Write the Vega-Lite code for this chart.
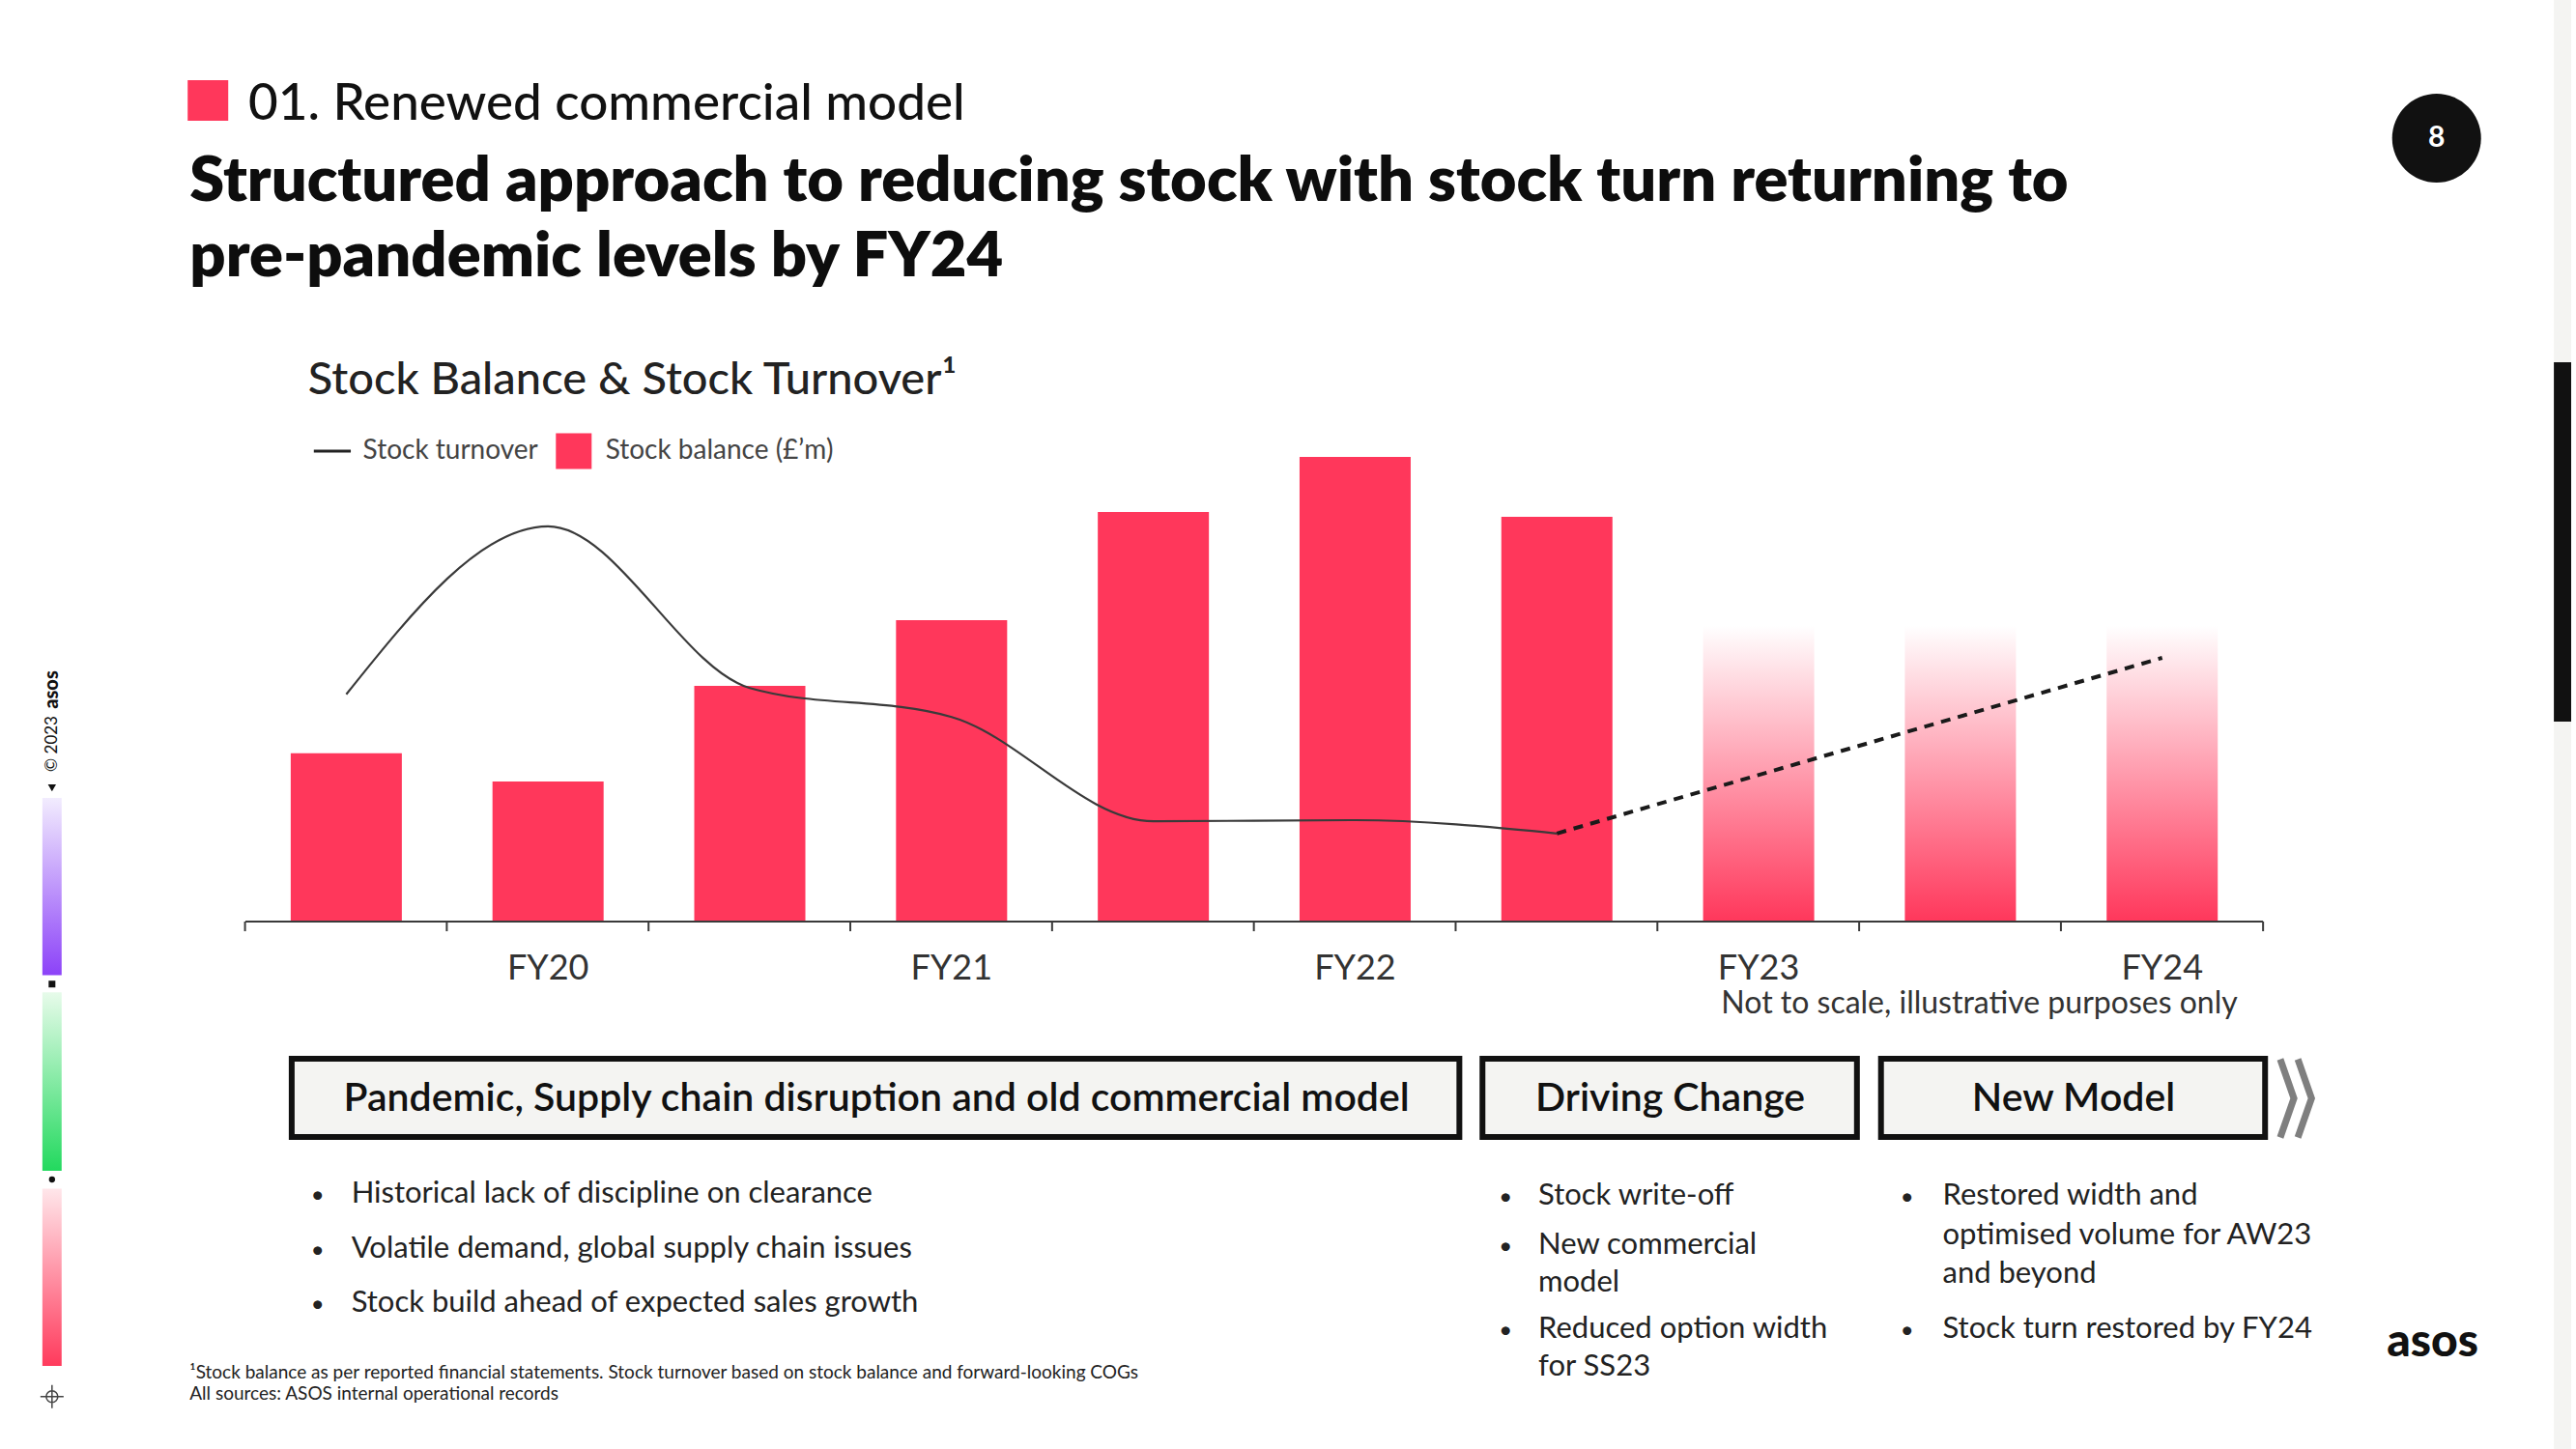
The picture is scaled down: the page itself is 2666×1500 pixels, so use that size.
{
  "$schema": "https://vega.github.io/schema/vega-lite/v6.json",
  "width": 2666,
  "height": 1500,
  "autosize": {"type": "fit", "contains": "padding"},
  "padding": 0,
  "background": "#ffffff",
  "config": {"view": {"stroke": null}, "font": "Lato", "text": {"font": "Lato"}},
  "datasets": {
    "stock": [
      {"idx": 1, "period": "H1 FY20", "balance": 392, "turnover": 3.92, "status": "actual"},
      {"idx": 2, "period": "FY20", "balance": 326, "turnover": 6.82, "status": "actual"},
      {"idx": 3, "period": "H1 FY21", "balance": 549, "turnover": 4.03, "status": "actual"},
      {"idx": 4, "period": "FY21", "balance": 702, "turnover": 3.53, "status": "actual"},
      {"idx": 5, "period": "H1 FY22", "balance": 954, "turnover": 1.73, "status": "actual"},
      {"idx": 6, "period": "FY22", "balance": 1082, "turnover": 1.75, "status": "actual"},
      {"idx": 7, "period": "H1 FY23", "balance": 943, "turnover": 1.52, "status": "actual"},
      {"idx": 8, "period": "FY23", "balance": 690, "turnover": null, "status": "projected"},
      {"idx": 9, "period": "H1 FY24", "balance": 690, "turnover": null, "status": "projected"},
      {"idx": 10, "period": "FY24", "balance": 690, "turnover": 4.55, "status": "projected"}
    ]
  },
  "resolve": {"scale": {"y": "independent"}},
  "layer": [
    {
      "layer": [
        {"data": {"values": [{"part": "edge"}]}, "mark": {"type": "rect", "color": "#f4f4f2"},
         "encoding": {"x": {"datum": 11.9413, "type": "quantitative", "scale": {"domain": [-0.6923, 12.027], "nice": false, "zero": false}, "axis": null}, "x2": {"datum": 12.027},
                      "y": {"datum": 2146.5, "type": "quantitative", "scale": {"domain": [-1228.5, 2146.5], "nice": false, "zero": false}, "axis": null}, "y2": {"datum": -1228.5}}},
        {"data": {"values": [{"part": "tab"}]}, "mark": {"type": "rect", "color": "#111111"},
         "encoding": {"x": {"datum": 11.9413, "type": "quantitative", "scale": {"domain": [-0.6923, 12.027], "nice": false, "zero": false}, "axis": null}, "x2": {"datum": 12.027},
                      "y": {"datum": 1302.75, "type": "quantitative", "scale": {"domain": [-1228.5, 2146.5], "nice": false, "zero": false}, "axis": null}, "y2": {"datum": 465.75}}},
        {"data": {"values": [{"part": "purple"}]}, "mark": {"type": "rect", "color": {"gradient": "linear", "x1": 0, "y1": 0, "x2": 0, "y2": 1, "stops": [{"offset": 0, "color": "#f2ecfe"}, {"offset": 1, "color": "#8c42f8"}]}},
         "encoding": {"x": {"datum": -0.5062, "type": "quantitative", "scale": {"domain": [-0.6923, 12.027], "nice": false, "zero": false}, "axis": null}, "x2": {"datum": -0.4108},
                      "y": {"datum": 288, "type": "quantitative", "scale": {"domain": [-1228.5, 2146.5], "nice": false, "zero": false}, "axis": null}, "y2": {"datum": -124.9}}},
        {"data": {"values": [{"part": "green"}]}, "mark": {"type": "rect", "color": {"gradient": "linear", "x1": 0, "y1": 0, "x2": 0, "y2": 1, "stops": [{"offset": 0, "color": "#e7fbea"}, {"offset": 1, "color": "#22d95e"}]}},
         "encoding": {"x": {"datum": -0.5062, "type": "quantitative", "scale": {"domain": [-0.6923, 12.027], "nice": false, "zero": false}, "axis": null}, "x2": {"datum": -0.4108},
                      "y": {"datum": -164.9, "type": "quantitative", "scale": {"domain": [-1228.5, 2146.5], "nice": false, "zero": false}, "axis": null}, "y2": {"datum": -580.5}}},
        {"data": {"values": [{"part": "pink"}]}, "mark": {"type": "rect", "color": {"gradient": "linear", "x1": 0, "y1": 0, "x2": 0, "y2": 1, "stops": [{"offset": 0, "color": "#ffe6ea"}, {"offset": 1, "color": "#ff3a5c"}]}},
         "encoding": {"x": {"datum": -0.5062, "type": "quantitative", "scale": {"domain": [-0.6923, 12.027], "nice": false, "zero": false}, "axis": null}, "x2": {"datum": -0.4108},
                      "y": {"datum": -621.9, "type": "quantitative", "scale": {"domain": [-1228.5, 2146.5], "nice": false, "zero": false}, "axis": null}, "y2": {"datum": -1035}}},
        {"data": {"values": [{"part": "marker"}]}, "mark": {"type": "point", "shape": "triangle-down", "size": 70, "filled": true, "color": "#111111", "opacity": 1},
         "encoding": {"x": {"datum": -0.4585, "type": "quantitative", "scale": {"domain": [-0.6923, 12.027], "nice": false, "zero": false}, "axis": null},
                      "y": {"datum": 311.4, "type": "quantitative", "scale": {"domain": [-1228.5, 2146.5], "nice": false, "zero": false}, "axis": null}}},
        {"data": {"values": [{"part": "marker"}]}, "mark": {"type": "point", "shape": "square", "size": 49, "filled": true, "color": "#111111", "opacity": 1},
         "encoding": {"x": {"datum": -0.4585, "type": "quantitative", "scale": {"domain": [-0.6923, 12.027], "nice": false, "zero": false}, "axis": null},
                      "y": {"datum": -145.6, "type": "quantitative", "scale": {"domain": [-1228.5, 2146.5], "nice": false, "zero": false}, "axis": null}}},
        {"data": {"values": [{"part": "marker"}]}, "mark": {"type": "point", "shape": "circle", "size": 40, "filled": true, "color": "#111111", "opacity": 1},
         "encoding": {"x": {"datum": -0.4585, "type": "quantitative", "scale": {"domain": [-0.6923, 12.027], "nice": false, "zero": false}, "axis": null},
                      "y": {"datum": -600.75, "type": "quantitative", "scale": {"domain": [-1228.5, 2146.5], "nice": false, "zero": false}, "axis": null}}},
        {"data": {"values": [{"part": "marker"}]}, "mark": {"type": "point", "shape": "M-0.5,0A0.5,0.5 0 1,0 0.5,0A0.5,0.5 0 1,0 -0.5,0M-1,0L1,0M0,-1L0,1", "size": 576, "filled": false, "stroke": "#444444", "strokeWidth": 1.5, "opacity": 1},
         "encoding": {"x": {"datum": -0.4585, "type": "quantitative", "scale": {"domain": [-0.6923, 12.027], "nice": false, "zero": false}, "axis": null},
                      "y": {"datum": -1106.3, "type": "quantitative", "scale": {"domain": [-1228.5, 2146.5], "nice": false, "zero": false}, "axis": null}}},
        {"data": {"values": [{"label": "asos"}]}, "mark": {"type": "text", "angle": 270, "align": "center", "baseline": "middle", "fontSize": 20, "fontWeight": 900, "color": "#111111"},
         "encoding": {"x": {"datum": -0.4585, "type": "quantitative", "scale": {"domain": [-0.6923, 12.027], "nice": false, "zero": false}, "axis": null},
                      "y": {"datum": 540, "type": "quantitative", "scale": {"domain": [-1228.5, 2146.5], "nice": false, "zero": false}, "axis": null}, "text": {"field": "label"}}},
        {"data": {"values": [{"label": "© 2023"}]}, "mark": {"type": "text", "angle": 270, "align": "center", "baseline": "middle", "fontSize": 17, "fontWeight": 400, "color": "#111111"},
         "encoding": {"x": {"datum": -0.4585, "type": "quantitative", "scale": {"domain": [-0.6923, 12.027], "nice": false, "zero": false}, "axis": null},
                      "y": {"datum": 414, "type": "quantitative", "scale": {"domain": [-1228.5, 2146.5], "nice": false, "zero": false}, "axis": null}, "text": {"field": "label"}}},
        {"data": {"values": [{"part": "section"}]}, "mark": {"type": "point", "shape": "square", "size": 1764, "filled": true, "color": "#ff375b", "opacity": 1},
         "encoding": {"x": {"datum": 0.3144, "type": "quantitative", "scale": {"domain": [-0.6923, 12.027], "nice": false, "zero": false}, "axis": null},
                      "y": {"datum": 1912.5, "type": "quantitative", "scale": {"domain": [-1228.5, 2146.5], "nice": false, "zero": false}, "axis": null}}},
        {"data": {"values": [{"label": "01. Renewed commercial model"}]}, "mark": {"type": "text", "align": "left", "baseline": "alphabetic", "fontSize": 53, "fontWeight": 500, "color": "#111111"},
         "encoding": {"x": {"datum": 0.5148, "type": "quantitative", "scale": {"domain": [-0.6923, 12.027], "nice": false, "zero": false}, "axis": null},
                      "y": {"datum": 1867.5, "type": "quantitative", "scale": {"domain": [-1228.5, 2146.5], "nice": false, "zero": false}, "axis": null}, "text": {"field": "label"}}},
        {"data": {"values": [{"label": "Structured approach to reducing stock with stock turn returning to"}]}, "mark": {"type": "text", "align": "left", "baseline": "alphabetic", "fontSize": 65, "fontWeight": 800, "color": "#0d0d0d"},
         "encoding": {"x": {"datum": 0.2238, "type": "quantitative", "scale": {"domain": [-0.6923, 12.027], "nice": false, "zero": false}, "axis": null},
                      "y": {"datum": 1679.6, "type": "quantitative", "scale": {"domain": [-1228.5, 2146.5], "nice": false, "zero": false}, "axis": null}, "text": {"field": "label"}}},
        {"data": {"values": [{"label": "pre-pandemic levels by FY24"}]}, "mark": {"type": "text", "align": "left", "baseline": "alphabetic", "fontSize": 65, "fontWeight": 800, "color": "#0d0d0d"},
         "encoding": {"x": {"datum": 0.2238, "type": "quantitative", "scale": {"domain": [-0.6923, 12.027], "nice": false, "zero": false}, "axis": null},
                      "y": {"datum": 1504.1, "type": "quantitative", "scale": {"domain": [-1228.5, 2146.5], "nice": false, "zero": false}, "axis": null}, "text": {"field": "label"}}},
        {"data": {"values": [{"part": "page"}]}, "mark": {"type": "point", "shape": "circle", "size": 8464, "filled": true, "color": "#111111", "opacity": 1},
         "encoding": {"x": {"datum": 11.36, "type": "quantitative", "scale": {"domain": [-0.6923, 12.027], "nice": false, "zero": false}, "axis": null},
                      "y": {"datum": 1824.75, "type": "quantitative", "scale": {"domain": [-1228.5, 2146.5], "nice": false, "zero": false}, "axis": null}}},
        {"data": {"values": [{"label": "8"}]}, "mark": {"type": "text", "align": "center", "baseline": "middle", "fontSize": 30, "fontWeight": 700, "color": "#ffffff"},
         "encoding": {"x": {"datum": 11.36, "type": "quantitative", "scale": {"domain": [-0.6923, 12.027], "nice": false, "zero": false}, "axis": null},
                      "y": {"datum": 1824.75, "type": "quantitative", "scale": {"domain": [-1228.5, 2146.5], "nice": false, "zero": false}, "axis": null}, "text": {"field": "label"}}},
        {"data": {"values": [{"label": "Stock Balance & Stock Turnover¹"}]}, "mark": {"type": "text", "align": "left", "baseline": "alphabetic", "fontSize": 47, "fontWeight": 500, "color": "#222222"},
         "encoding": {"x": {"datum": 0.8106, "type": "quantitative", "scale": {"domain": [-0.6923, 12.027], "nice": false, "zero": false}, "axis": null},
                      "y": {"datum": 1228.5, "type": "quantitative", "scale": {"domain": [-1228.5, 2146.5], "nice": false, "zero": false}, "axis": null}, "text": {"field": "label"}}},
        {"data": {"values": [{"series": "Stock turnover"}]}, "mark": {"type": "rule", "color": "#222222", "strokeWidth": 3},
         "encoding": {"x": {"datum": 0.8392, "type": "quantitative", "scale": {"domain": [-0.6923, 12.027], "nice": false, "zero": false}, "axis": null}, "x2": {"datum": 1.0224},
                      "y": {"datum": 1095.75, "type": "quantitative", "scale": {"domain": [-1228.5, 2146.5], "nice": false, "zero": false}, "axis": null}}},
        {"data": {"values": [{"label": "Stock turnover"}]}, "mark": {"type": "text", "align": "left", "baseline": "middle", "fontSize": 28, "fontWeight": 400, "color": "#444444"},
         "encoding": {"x": {"datum": 1.0825, "type": "quantitative", "scale": {"domain": [-0.6923, 12.027], "nice": false, "zero": false}, "axis": null},
                      "y": {"datum": 1095.75, "type": "quantitative", "scale": {"domain": [-1228.5, 2146.5], "nice": false, "zero": false}, "axis": null}, "text": {"field": "label"}}},
        {"data": {"values": [{"series": "Stock balance"}]}, "mark": {"type": "point", "shape": "square", "size": 1369, "filled": true, "color": "#ff375b", "opacity": 1},
         "encoding": {"x": {"datum": 2.1274, "type": "quantitative", "scale": {"domain": [-0.6923, 12.027], "nice": false, "zero": false}, "axis": null},
                      "y": {"datum": 1095.75, "type": "quantitative", "scale": {"domain": [-1228.5, 2146.5], "nice": false, "zero": false}, "axis": null}}},
        {"data": {"values": [{"label": "Stock balance (£’m)"}]}, "mark": {"type": "text", "align": "left", "baseline": "middle", "fontSize": 28, "fontWeight": 400, "color": "#444444"},
         "encoding": {"x": {"datum": 2.2848, "type": "quantitative", "scale": {"domain": [-0.6923, 12.027], "nice": false, "zero": false}, "axis": null},
                      "y": {"datum": 1095.75, "type": "quantitative", "scale": {"domain": [-1228.5, 2146.5], "nice": false, "zero": false}, "axis": null}, "text": {"field": "label"}}},
        {"data": {"name": "stock"}, "transform": [{"filter": "datum.status === 'actual'"}],
         "mark": {"type": "bar", "orient": "vertical", "width": 115, "color": "#ff375b"},
         "encoding": {"x": {"field": "idx", "type": "quantitative", "scale": {"domain": [-0.6923, 12.027], "nice": false, "zero": false}, "axis": null},
                      "y": {"field": "balance", "type": "quantitative", "scale": {"domain": [-1228.5, 2146.5], "nice": false, "zero": false}, "axis": null}, "y2": {"datum": 0}}},
        {"data": {"name": "stock"}, "transform": [{"filter": "datum.status === 'projected'"}],
         "mark": {"type": "bar", "orient": "vertical", "width": 115, "color": {"gradient": "linear", "x1": 0, "y1": 1, "x2": 0, "y2": 0, "stops": [{"offset": 0, "color": "#ff375b"}, {"offset": 1, "color": "#ffffff"}]}},
         "encoding": {"x": {"field": "idx", "type": "quantitative", "scale": {"domain": [-0.6923, 12.027], "nice": false, "zero": false}, "axis": null},
                      "y": {"field": "balance", "type": "quantitative", "scale": {"domain": [-1228.5, 2146.5], "nice": false, "zero": false}, "axis": null}, "y2": {"datum": 0}}},
        {"data": {"values": [{"part": "baseline"}]}, "mark": {"type": "rule", "color": "#3a3a3a", "strokeWidth": 2},
         "encoding": {"x": {"datum": 0.5, "type": "quantitative", "scale": {"domain": [-0.6923, 12.027], "nice": false, "zero": false}, "axis": null}, "x2": {"datum": 10.5},
                      "y": {"datum": 0, "type": "quantitative", "scale": {"domain": [-1228.5, 2146.5], "nice": false, "zero": false}, "axis": null}}},
        {"data": {"name": "stock"}, "mark": {"type": "rule", "color": "#3a3a3a", "strokeWidth": 2},
         "encoding": {"x": {"field": "idx", "type": "quantitative", "scale": {"domain": [-0.6923, 12.027], "nice": false, "zero": false}, "axis": null}, "xOffset": {"value": -104.8},
                      "y": {"datum": 0, "type": "quantitative", "scale": {"domain": [-1228.5, 2146.5], "nice": false, "zero": false}, "axis": null}, "y2": {"datum": -22.5}}},
        {"data": {"values": [{"part": "end tick"}]}, "mark": {"type": "rule", "color": "#3a3a3a", "strokeWidth": 2},
         "encoding": {"x": {"datum": 10.5, "type": "quantitative", "scale": {"domain": [-0.6923, 12.027], "nice": false, "zero": false}, "axis": null},
                      "y": {"datum": 0, "type": "quantitative", "scale": {"domain": [-1228.5, 2146.5], "nice": false, "zero": false}, "axis": null}, "y2": {"datum": -22.5}}},
        {"data": {"name": "stock"}, "transform": [{"filter": "indexof(datum.period, 'H1') < 0"}],
         "mark": {"type": "text", "align": "center", "baseline": "middle", "fontSize": 36, "fontWeight": 400, "color": "#333333"},
         "encoding": {"x": {"field": "idx", "type": "quantitative", "scale": {"domain": [-0.6923, 12.027], "nice": false, "zero": false}, "axis": null},
                      "y": {"datum": -110.25, "type": "quantitative", "scale": {"domain": [-1228.5, 2146.5], "nice": false, "zero": false}, "axis": null}, "text": {"field": "period"}}},
        {"data": {"values": [{"label": "Not to scale, illustrative purposes only"}]}, "mark": {"type": "text", "align": "left", "baseline": "middle", "fontSize": 32, "fontWeight": 400, "color": "#333333"},
         "encoding": {"x": {"datum": 7.8144, "type": "quantitative", "scale": {"domain": [-0.6923, 12.027], "nice": false, "zero": false}, "axis": null},
                      "y": {"datum": -191.25, "type": "quantitative", "scale": {"domain": [-1228.5, 2146.5], "nice": false, "zero": false}, "axis": null}, "text": {"field": "label"}}},
        {"data": {"values": [{"phase": "Pandemic"}]}, "mark": {"type": "rect", "fill": "#f4f4f2", "stroke": "#111111", "strokeWidth": 6},
         "encoding": {"x": {"datum": 0.7295, "type": "quantitative", "scale": {"domain": [-0.6923, 12.027], "nice": false, "zero": false}, "axis": null}, "x2": {"datum": 6.5167},
                      "y": {"datum": -319.5, "type": "quantitative", "scale": {"domain": [-1228.5, 2146.5], "nice": false, "zero": false}, "axis": null}, "y2": {"datum": -501.75}}},
        {"data": {"values": [{"phase": "Driving Change"}]}, "mark": {"type": "rect", "fill": "#f4f4f2", "stroke": "#111111", "strokeWidth": 6},
         "encoding": {"x": {"datum": 6.6312, "type": "quantitative", "scale": {"domain": [-0.6923, 12.027], "nice": false, "zero": false}, "axis": null}, "x2": {"datum": 8.4871},
                      "y": {"datum": -319.5, "type": "quantitative", "scale": {"domain": [-1228.5, 2146.5], "nice": false, "zero": false}, "axis": null}, "y2": {"datum": -501.75}}},
        {"data": {"values": [{"phase": "New Model"}]}, "mark": {"type": "rect", "fill": "#f4f4f2", "stroke": "#111111", "strokeWidth": 6},
         "encoding": {"x": {"datum": 8.6064, "type": "quantitative", "scale": {"domain": [-0.6923, 12.027], "nice": false, "zero": false}, "axis": null}, "x2": {"datum": 10.51},
                      "y": {"datum": -319.5, "type": "quantitative", "scale": {"domain": [-1228.5, 2146.5], "nice": false, "zero": false}, "axis": null}, "y2": {"datum": -501.75}}},
        {"data": {"values": [{"label": "Pandemic, Supply chain disruption and old commercial model"}]}, "mark": {"type": "text", "align": "center", "baseline": "middle", "fontSize": 41, "fontWeight": 600, "color": "#111111"},
         "encoding": {"x": {"datum": 3.6279, "type": "quantitative", "scale": {"domain": [-0.6923, 12.027], "nice": false, "zero": false}, "axis": null},
                      "y": {"datum": -414, "type": "quantitative", "scale": {"domain": [-1228.5, 2146.5], "nice": false, "zero": false}, "axis": null}, "text": {"field": "label"}}},
        {"data": {"values": [{"label": "Driving Change"}]}, "mark": {"type": "text", "align": "center", "baseline": "middle", "fontSize": 41, "fontWeight": 600, "color": "#111111"},
         "encoding": {"x": {"datum": 7.5616, "type": "quantitative", "scale": {"domain": [-0.6923, 12.027], "nice": false, "zero": false}, "axis": null},
                      "y": {"datum": -414, "type": "quantitative", "scale": {"domain": [-1228.5, 2146.5], "nice": false, "zero": false}, "axis": null}, "text": {"field": "label"}}},
        {"data": {"values": [{"label": "New Model"}]}, "mark": {"type": "text", "align": "center", "baseline": "middle", "fontSize": 41, "fontWeight": 600, "color": "#111111"},
         "encoding": {"x": {"datum": 9.5606, "type": "quantitative", "scale": {"domain": [-0.6923, 12.027], "nice": false, "zero": false}, "axis": null},
                      "y": {"datum": -414, "type": "quantitative", "scale": {"domain": [-1228.5, 2146.5], "nice": false, "zero": false}, "axis": null}, "text": {"field": "label"}}},
        {"data": {"values": [{"part": "chevron"}]}, "mark": {"type": "point", "shape": "M-0.4,-1L-0.05,0L-0.4,1M0.05,-1L0.4,0L0.05,1", "size": 6561, "filled": false, "stroke": "#7f7f7f", "strokeWidth": 7, "opacity": 1},
         "encoding": {"x": {"datum": 10.6627, "type": "quantitative", "scale": {"domain": [-0.6923, 12.027], "nice": false, "zero": false}, "axis": null},
                      "y": {"datum": -411.75, "type": "quantitative", "scale": {"domain": [-1228.5, 2146.5], "nice": false, "zero": false}, "axis": null}}},
        {"data": {"values": [{"label": "•\n•\n•"}]}, "mark": {"type": "text", "align": "center", "baseline": "alphabetic", "lineBreak": "\n", "lineHeight": 56.5, "fontSize": 24, "color": "#222222"},
         "encoding": {"x": {"datum": 0.8583, "type": "quantitative", "scale": {"domain": [-0.6923, 12.027], "nice": false, "zero": false}, "axis": null},
                      "y": {"datum": -654.75, "type": "quantitative", "scale": {"domain": [-1228.5, 2146.5], "nice": false, "zero": false}, "axis": null}, "text": {"field": "label"}}},
        {"data": {"values": [{"label": "Historical lack of discipline on clearance\nVolatile demand, global supply chain issues\nStock build ahead of expected sales growth"}]}, "mark": {"type": "text", "align": "left", "baseline": "alphabetic", "lineBreak": "\n", "lineHeight": 56.5, "fontSize": 31, "fontWeight": 400, "color": "#222222"},
         "encoding": {"x": {"datum": 1.0253, "type": "quantitative", "scale": {"domain": [-0.6923, 12.027], "nice": false, "zero": false}, "axis": null},
                      "y": {"datum": -654.75, "type": "quantitative", "scale": {"domain": [-1228.5, 2146.5], "nice": false, "zero": false}, "axis": null}, "text": {"field": "label"}}},
        {"data": {"values": [{"label": "Stock write-off"}]},
         "encoding": {"y": {"datum": -659.25, "type": "quantitative", "scale": {"domain": [-1228.5, 2146.5], "nice": false, "zero": false}, "axis": null}},
         "layer": [
           {"mark": {"type": "text", "align": "center", "baseline": "alphabetic", "fontSize": 24, "color": "#222222"},
            "encoding": {"x": {"datum": 6.7457, "type": "quantitative", "scale": {"domain": [-0.6923, 12.027], "nice": false, "zero": false}, "axis": null}, "text": {"value": "•"}}},
           {"mark": {"type": "text", "align": "left", "baseline": "alphabetic", "lineBreak": "\n", "lineHeight": 39, "fontSize": 31, "color": "#222222"},
            "encoding": {"x": {"datum": 6.9079, "type": "quantitative", "scale": {"domain": [-0.6923, 12.027], "nice": false, "zero": false}, "axis": null}, "text": {"field": "label"}}}
         ]},
        {"data": {"values": [{"label": "New commercial\nmodel"}]},
         "encoding": {"y": {"datum": -774, "type": "quantitative", "scale": {"domain": [-1228.5, 2146.5], "nice": false, "zero": false}, "axis": null}},
         "layer": [
           {"mark": {"type": "text", "align": "center", "baseline": "alphabetic", "fontSize": 24, "color": "#222222"},
            "encoding": {"x": {"datum": 6.7457, "type": "quantitative", "scale": {"domain": [-0.6923, 12.027], "nice": false, "zero": false}, "axis": null}, "text": {"value": "•"}}},
           {"mark": {"type": "text", "align": "left", "baseline": "alphabetic", "lineBreak": "\n", "lineHeight": 39, "fontSize": 31, "color": "#222222"},
            "encoding": {"x": {"datum": 6.9079, "type": "quantitative", "scale": {"domain": [-0.6923, 12.027], "nice": false, "zero": false}, "axis": null}, "text": {"field": "label"}}}
         ]},
        {"data": {"values": [{"label": "Reduced option width\nfor SS23"}]},
         "encoding": {"y": {"datum": -969.75, "type": "quantitative", "scale": {"domain": [-1228.5, 2146.5], "nice": false, "zero": false}, "axis": null}},
         "layer": [
           {"mark": {"type": "text", "align": "center", "baseline": "alphabetic", "fontSize": 24, "color": "#222222"},
            "encoding": {"x": {"datum": 6.7457, "type": "quantitative", "scale": {"domain": [-0.6923, 12.027], "nice": false, "zero": false}, "axis": null}, "text": {"value": "•"}}},
           {"mark": {"type": "text", "align": "left", "baseline": "alphabetic", "lineBreak": "\n", "lineHeight": 39, "fontSize": 31, "color": "#222222"},
            "encoding": {"x": {"datum": 6.9079, "type": "quantitative", "scale": {"domain": [-0.6923, 12.027], "nice": false, "zero": false}, "axis": null}, "text": {"field": "label"}}}
         ]},
        {"data": {"values": [{"label": "Restored width and\noptimised volume for AW23\nand beyond"}]},
         "encoding": {"y": {"datum": -659.25, "type": "quantitative", "scale": {"domain": [-1228.5, 2146.5], "nice": false, "zero": false}, "axis": null}},
         "layer": [
           {"mark": {"type": "text", "align": "center", "baseline": "alphabetic", "fontSize": 24, "color": "#222222"},
            "encoding": {"x": {"datum": 8.7352, "type": "quantitative", "scale": {"domain": [-0.6923, 12.027], "nice": false, "zero": false}, "axis": null}, "text": {"value": "•"}}},
           {"mark": {"type": "text", "align": "left", "baseline": "alphabetic", "lineBreak": "\n", "lineHeight": 40.5, "fontSize": 31, "color": "#222222"},
            "encoding": {"x": {"datum": 8.9117, "type": "quantitative", "scale": {"domain": [-0.6923, 12.027], "nice": false, "zero": false}, "axis": null}, "text": {"field": "label"}}}
         ]},
        {"data": {"values": [{"label": "Stock turn restored by FY24"}]},
         "encoding": {"y": {"datum": -969.75, "type": "quantitative", "scale": {"domain": [-1228.5, 2146.5], "nice": false, "zero": false}, "axis": null}},
         "layer": [
           {"mark": {"type": "text", "align": "center", "baseline": "alphabetic", "fontSize": 24, "color": "#222222"},
            "encoding": {"x": {"datum": 8.7352, "type": "quantitative", "scale": {"domain": [-0.6923, 12.027], "nice": false, "zero": false}, "axis": null}, "text": {"value": "•"}}},
           {"mark": {"type": "text", "align": "left", "baseline": "alphabetic", "lineBreak": "\n", "lineHeight": 40, "fontSize": 31, "color": "#222222"},
            "encoding": {"x": {"datum": 8.9117, "type": "quantitative", "scale": {"domain": [-0.6923, 12.027], "nice": false, "zero": false}, "axis": null}, "text": {"field": "label"}}}
         ]},
        {"data": {"values": [{"label": "¹Stock balance as per reported financial statements. Stock  turnover based on stock balance and forward-looking COGs\nAll sources: ASOS internal operational records"}]},
         "mark": {"type": "text", "align": "left", "baseline": "alphabetic", "lineBreak": "\n", "lineHeight": 22, "fontSize": 19, "fontWeight": 400, "color": "#222222"},
         "encoding": {"x": {"datum": 0.2238, "type": "quantitative", "scale": {"domain": [-0.6923, 12.027], "nice": false, "zero": false}, "axis": null},
                      "y": {"datum": -1064.25, "type": "quantitative", "scale": {"domain": [-1228.5, 2146.5], "nice": false, "zero": false}, "axis": null}, "text": {"field": "label"}}},
        {"data": {"values": [{"label": "asos"}]}, "mark": {"type": "text", "align": "center", "baseline": "middle", "fontSize": 48, "fontWeight": 900, "color": "#111111"},
         "encoding": {"x": {"datum": 11.34, "type": "quantitative", "scale": {"domain": [-0.6923, 12.027], "nice": false, "zero": false}, "axis": null},
                      "y": {"datum": -981, "type": "quantitative", "scale": {"domain": [-1228.5, 2146.5], "nice": false, "zero": false}, "axis": null}, "text": {"field": "label"}}}
      ]
    },
    {
      "layer": [
        {"data": {"name": "stock"}, "transform": [{"filter": "datum.idx <= 7"}],
         "mark": {"type": "line", "interpolate": "monotone", "color": "#3a3a3a", "strokeWidth": 2.2},
         "encoding": {"x": {"field": "idx", "type": "quantitative", "scale": {"domain": [-0.6923, 12.027], "nice": false, "zero": false}, "axis": null},
                      "y": {"field": "turnover", "type": "quantitative", "scale": {"domain": [-9.1, 15.9], "nice": false, "zero": false}, "axis": null}}},
        {"data": {"name": "stock"}, "transform": [{"filter": "datum.idx >= 7 && isValid(datum.turnover)"}],
         "mark": {"type": "line", "color": "#1a1a1a", "strokeWidth": 4, "strokeDash": [10, 8]},
         "encoding": {"x": {"field": "idx", "type": "quantitative", "scale": {"domain": [-0.6923, 12.027], "nice": false, "zero": false}, "axis": null},
                      "y": {"field": "turnover", "type": "quantitative", "scale": {"domain": [-9.1, 15.9], "nice": false, "zero": false}, "axis": null}}}
      ]
    }
  ]
}
